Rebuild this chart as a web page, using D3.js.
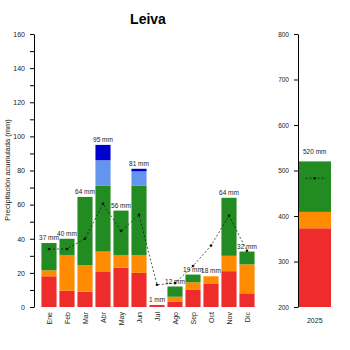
<!DOCTYPE html>
<html lang="es">
<head>
    <meta charset="UTF-8">
    <title>Leiva</title>
    <script src="https://d3js.org/d3.v7.min.js"></script>
    <style>
        body { margin: 0; background: #fff; font-family: Arial, "Liberation Sans", sans-serif; }
        .axis text { font-size: 7px; fill: #222; }
        .axis path, .axis line { stroke: #000; }
        .lbl { font-size: 6.5px; fill: #222; text-anchor: middle; }
    </style>
</head>
<body>
    <div id="chart"></div>
    <script>
        const months = ["Ene", "Feb", "Mar", "Abr", "May", "Jun", "Jul", "Ago", "Sep", "Oct", "Nov", "Dic"];
        const red = [18, 9.5, 9, 20.5, 23, 20, 1.2, 3, 10, 13.5, 21, 8];
        const orange = [3.5, 21, 15.5, 12, 7.5, 10.5, 0, 3, 4.5, 4.5, 9, 17];
        const green = [16, 9.5, 40, 38.5, 26, 40.5, 0, 6, 4.5, 0, 34, 7.5];
        const lightBlue = [0, 0, 0, 15, 0, 8.5, 0, 0, 0, 0, 0, 0];
        const darkBlue = [0, 0, 0, 9, 0, 1.5, 0, 0, 0, 0, 0, 0];
        const labels = ["37 mm", "40 mm", "64 mm", "95 mm", "56 mm", "81 mm", "1 mm", "12 mm", "19 mm", "18 mm", "64 mm", "32 mm"];
        const mean = [34, 34, 40, 60.5, 44.5, 54, 13, 14, 24, 36, 53.5, 33];

        const yearCat = ["2025"];
        const yearParts = [373, 36, 111];
        const yearLabel = "520 mm";
        const yearMean = 483;

        const colors = ["#EE2C2C", "#FF8C00", "#228B22", "#6495ED", "#0000CD"];
        const keys = ["red", "orange", "green", "lightBlue", "darkBlue"];

        const W = 350, H = 350;
        const svg = d3.select("#chart").append("svg")
            .attr("width", W).attr("height", H);

        svg.append("text")
            .attr("x", 148).attr("y", 24)
            .attr("text-anchor", "middle")
            .style("font-size", "14px").style("font-weight", "bold")
            .text("Leiva");

        // monthly panel
        const x = d3.scaleBand().domain(months).range([40, 256]).paddingInner(0.16).paddingOuter(0.08);
        const y = d3.scaleLinear().domain([0, 160]).range([307, 34]);

        const rows = months.map((m, i) => ({
            month: m, red: red[i], orange: orange[i], green: green[i],
            lightBlue: lightBlue[i], darkBlue: darkBlue[i]
        }));
        const stack = d3.stack().keys(keys)(rows);

        svg.append("g").selectAll("g")
            .data(stack).enter().append("g")
            .attr("fill", (d, i) => colors[i])
            .selectAll("rect")
            .data(d => d).enter().append("rect")
            .attr("x", d => x(d.data.month))
            .attr("width", x.bandwidth())
            .attr("y", d => y(d[1]))
            .attr("height", d => y(d[0]) - y(d[1]));

        const totals = rows.map(r => keys.reduce((s, k) => s + r[k], 0));
        svg.selectAll(".lbl.m")
            .data(months).enter().append("text")
            .attr("class", "lbl m")
            .attr("x", d => x(d) + x.bandwidth() / 2)
            .attr("y", (d, i) => y(totals[i]) - 3)
            .text((d, i) => labels[i]);

        const line = d3.line()
            .x((d, i) => x(months[i]) + x.bandwidth() / 2)
            .y(d => y(d));
        svg.append("path")
            .datum(mean)
            .attr("d", line)
            .attr("fill", "none")
            .attr("stroke", "#111")
            .attr("stroke-width", 0.7)
            .attr("stroke-dasharray", "2,2");
        svg.selectAll(".pt")
            .data(mean).enter().append("circle")
            .attr("cx", (d, i) => x(months[i]) + x.bandwidth() / 2)
            .attr("cy", d => y(d))
            .attr("r", 1.3)
            .attr("fill", "#111");

        const yAxis = svg.append("g")
            .attr("class", "axis")
            .attr("transform", "translate(34,0)")
            .call(d3.axisLeft(y).tickValues(d3.range(0, 161, 10)).tickSize(4).tickSizeOuter(0)
                .tickFormat(d => d % 20 === 0 ? d : ""));
        yAxis.selectAll("text").attr("x", -9);

        svg.append("text")
            .attr("transform", "translate(10,170) rotate(-90)")
            .attr("text-anchor", "middle")
            .style("font-size", "7.5px").style("fill", "#222")
            .text("Precipitación acumulada (mm)");

        svg.selectAll(".mon")
            .data(months).enter().append("text")
            .attr("transform", d => "translate(" + (x(d) + x.bandwidth() / 2 + 2.5) + ",312) rotate(-90)")
            .attr("text-anchor", "end")
            .style("font-size", "7px").style("fill", "#222")
            .text(d => d);

        // annual panel
        const x2 = d3.scaleBand().domain(yearCat).range([298.5, 331]);
        const y2 = d3.scaleLinear().domain([200, 800]).range([307, 34]).clamp(true);
        let acc = 0;
        const yearStack = yearParts.map((v, i) => {
            const seg = { y0: acc, y1: acc + v, c: colors[i] };
            acc += v;
            return seg;
        });
        svg.append("g").selectAll("rect")
            .data(yearStack).enter().append("rect")
            .attr("x", x2("2025"))
            .attr("width", x2.bandwidth())
            .attr("y", d => y2(d.y1))
            .attr("height", d => y2(d.y0) - y2(d.y1))
            .attr("fill", d => d.c);

        svg.append("text")
            .attr("class", "lbl")
            .attr("x", x2("2025") + x2.bandwidth() / 2)
            .attr("y", y2(acc) - 7)
            .text(yearLabel);

        svg.append("line")
            .attr("x1", x2("2025") + 7).attr("x2", x2("2025") + x2.bandwidth() - 5)
            .attr("y1", y2(yearMean)).attr("y2", y2(yearMean))
            .attr("stroke", "#111").attr("stroke-width", 0.7)
            .attr("stroke-dasharray", "2,2");
        svg.append("circle")
            .attr("cx", x2("2025") + x2.bandwidth() / 2)
            .attr("cy", y2(yearMean)).attr("r", 1.3).attr("fill", "#111");

        const y2Axis = svg.append("g")
            .attr("class", "axis")
            .attr("transform", "translate(298,0)")
            .call(d3.axisLeft(y2).tickValues(d3.range(200, 801, 100)).tickSize(4).tickSizeOuter(0));
        y2Axis.selectAll("text").attr("x", -9).style("font-size", "6.5px");

        svg.append("text")
            .attr("x", x2("2025") + x2.bandwidth() / 2)
            .attr("y", 323)
            .attr("text-anchor", "middle")
            .style("font-size", "7px").style("fill", "#222")
            .text("2025");
    </script>
</body>
</html>
